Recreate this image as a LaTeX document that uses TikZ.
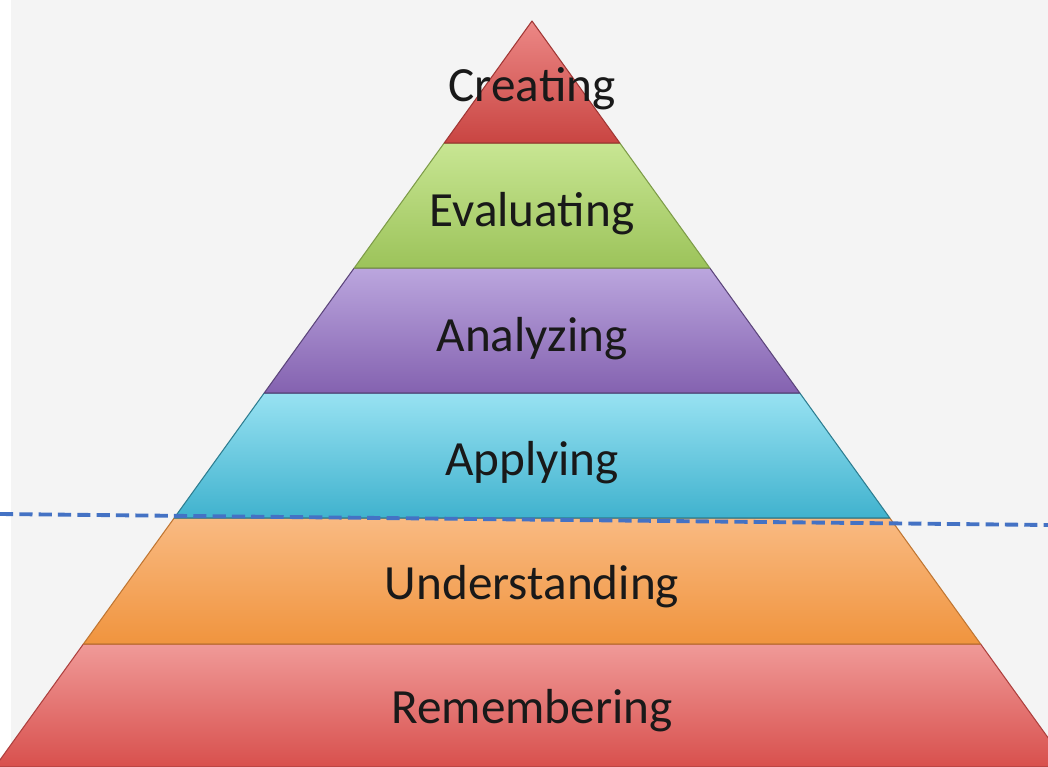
\documentclass[tikz,border=0pt]{standalone}
\usepackage{fontspec}
\setmainfont{Carlito}
\definecolor{createtop}{HTML}{EC8886}
\definecolor{createbot}{HTML}{C94542}
\definecolor{evaltop}{HTML}{C8E693}
\definecolor{evalbot}{HTML}{9CC35A}
\definecolor{analytop}{HTML}{BBA6DE}
\definecolor{analybot}{HTML}{8462B0}
\definecolor{applytop}{HTML}{98E2F2}
\definecolor{applybot}{HTML}{40B2CE}
\definecolor{undertop}{HTML}{F9BA82}
\definecolor{underbot}{HTML}{F0943E}
\definecolor{remtop}{HTML}{F09A98}
\definecolor{rembot}{HTML}{D8504D}
\definecolor{cutblue}{HTML}{4472C4}
\definecolor{paper}{HTML}{F4F4F4}
\usetikzlibrary{positioning}

\begin{document}
\begin{tikzpicture}[x=0.02cm, y=-0.02cm,
  band/.style={line width=0.6pt, line join=round},
  level/.style={anchor=base, font=\fontsize{28}{31}\selectfont, text=black!90},
  cutline/.style={draw=cutblue, line width=2.2pt, dash pattern=on 7.5pt off 3.5pt}]
  \useasboundingbox (0,0) rectangle (1048,767);
  \clip (0,0) rectangle (1048,767);
  % Background
  \fill[white] (0,0) rectangle (1048,767);
  \fill[paper] (11,0) rectangle (1048,767);
  % Remembering band
  \shade[band, draw=rembot!80!black, top color=remtop, bottom color=rembot]
    (83.4,644) -- (980.6,644) -- (1069.1,767) -- (-5.1,767) -- cycle;
  % Understanding band
  \shade[band, draw=underbot!80!black, top color=undertop, bottom color=underbot]
    (174.2,518) -- (889.8,518) -- (980.6,644) -- (83.4,644) -- cycle;
  % Applying band
  \shade[band, draw=applybot!70!black, top color=applytop, bottom color=applybot]
    (264.2,393) -- (799.8,393) -- (889.8,518) -- (174.2,518) -- cycle;
  % Analyzing band
  \shade[band, draw=analybot!70!black, top color=analytop, bottom color=analybot]
    (354.2,268) -- (709.8,268) -- (799.8,393) -- (264.2,393) -- cycle;
  % Evaluating band
  \shade[band, draw=evalbot!80!black, top color=evaltop, bottom color=evalbot]
    (444.2,143) -- (619.8,143) -- (709.8,268) -- (354.2,268) -- cycle;
  % Creating band
  \shade[band, draw=createbot!80!black, top color=createtop, bottom color=createbot]
    (532,21) -- (619.8,143) -- (444.2,143) -- cycle;
  % Level labels
  \node[level] (creating) at (532,102) {Creating};
  \node[level] (evaluating) at (532,226) {Evaluating};
  \node[level] (analyzing) at (532,351) {Analyzing};
  \node[level] (applying) at (532,475) {Applying};
  \node[level] (understanding) at (532,599) {Understanding};
  \node[level] (remembering) at (532,723) {Remembering};
  % Dashed cut line
  \coordinate (cutL) at (0,514);
  \coordinate (cutR) at (1048,525);
  \draw[cutline] (cutL) -- (cutR);
\end{tikzpicture}
\end{document}
